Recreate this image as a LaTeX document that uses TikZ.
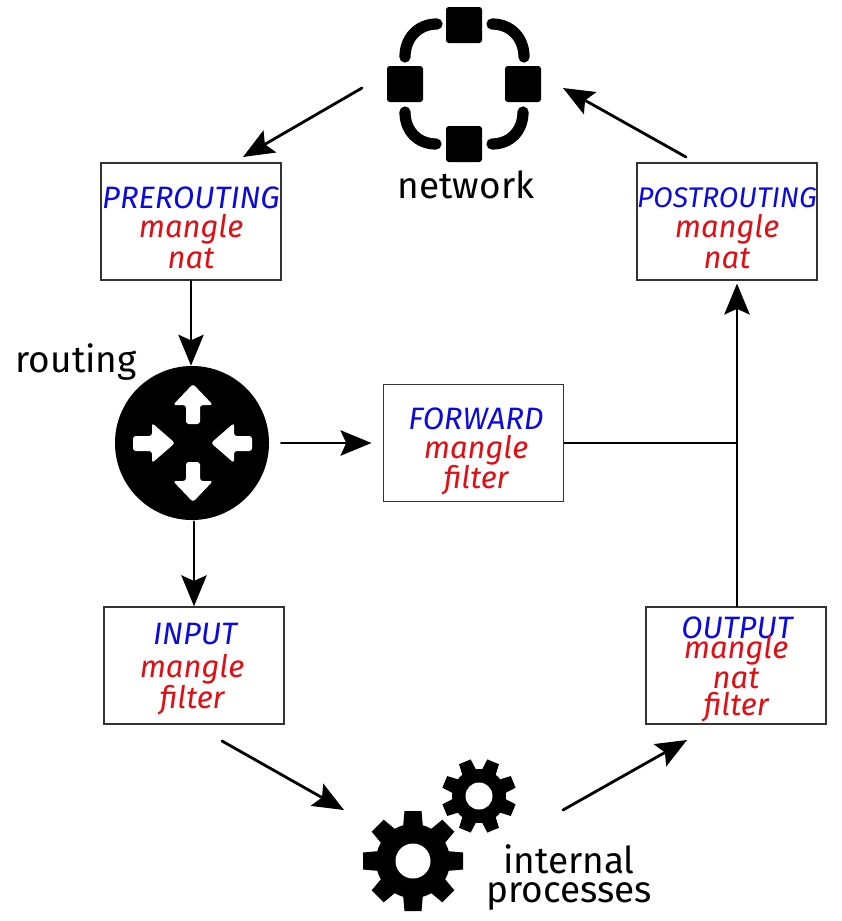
\documentclass[tikz,border=0pt]{standalone}
\usepackage{fontspec}
\setmainfont{Fira Sans}
\usetikzlibrary{arrows.meta}
\definecolor{chainblue}{RGB}{10,10,225}
\definecolor{tablered}{RGB}{225,15,20}
\tikzset{
  chainbox/.style={draw=black!80, line width=1pt, fill=white, minimum width=4.5cm, minimum height=2.925cm, inner sep=0pt},
  chainname/.style={font=\fontsize{22}{22}\selectfont\itshape, text=chainblue, inner sep=0pt},
  tablename/.style={font=\fontsize{22}{22}\selectfont\itshape, text=tablered, inner sep=0pt},
  caption/.style={font=\fontsize{26.3}{26.3}\selectfont, inner sep=0pt},
  flow/.style={line width=2pt, line cap=round, -{Stealth[length=22pt, width=18pt, inset=4pt]}},
  plainflow/.style={line width=2pt},
  hub/.style={line width=8pt, line cap=round},
}
% gear: x, y, outer radius, root radius, hole radius, turn
\newcommand{\gearicon}[6]{
  \begin{scope}[shift={(#1,#2)}]
    \fill (0,0) circle (#4);
    \foreach \a in {0,45,...,315}
      \fill[rotate=\a+#6] (-0.26*#3,0) -- (-0.17*#3,#3) -- (0.17*#3,#3) -- (0.26*#3,0) -- cycle;
    \fill[white] (0,0) circle (#5);
  \end{scope}
}
\begin{document}
\begin{tikzpicture}[x=0.025cm, y=-0.025cm]
  \useasboundingbox (0,0) rectangle (842,921);

  % network icon
  \node[minimum size=3.9cm] (network) at (464,84.5) {};
  \foreach \x/\y in {464/25, 405/84, 523/84, 464/144}
    \fill[rounded corners=2pt] (\x-18,\y-18) rectangle (\x+18,\y+18);
  \draw[hub] (405,57) .. controls (405,38) and (418,24) .. (437,24);
  \draw[hub] (492,24) .. controls (511,24) and (524,38) .. (524,57);
  \draw[hub] (405,112) .. controls (405,131) and (418,144) .. (436,144);
  \draw[hub] (492,144) .. controls (510,144) and (523,131) .. (523,112);
  \node[caption] (networktext) at (466,185) {network};

  % router icon
  \node[circle, fill=black, minimum size=3.85cm, inner sep=0pt] (router) at (192,443) {};
  \foreach \sy in {-1,1}
    \fill[white, rounded corners=2pt, shift={(193,443)}, yscale=\sy]
      (-7,19) -- (-7,38) -- (-20,38) -- (0,59) -- (20,38) -- (7,38) -- (7,19) -- cycle;
  \fill[white, rounded corners=2pt] (133,436) -- (152,436) -- (152,423) -- (175,443) -- (152,463) -- (152,451) -- (133,451) -- cycle;
  \fill[white, rounded corners=2pt] (252,436) -- (234,436) -- (234,423) -- (211,443) -- (234,463) -- (234,451) -- (252,451) -- cycle;
  \node[caption, anchor=east] (routertext) at (137,362) {routing};

  % gears icon
  \gearicon{413}{861}{50}{37}{17.5}{0}
  \gearicon{479}{796}{37}{27}{13.5}{22.5}
  \node[caption] (internaltext) at (569,859) {internal};
  \node[caption] (processestext) at (569,896) {processes};

  % chains
  \node[chainbox] (prerouting) at (191,221.5) {};
  \node[chainname] (preroutingname) at (191,198) {PREROUTING};
  \node[tablename] (preroutingmangle) at (191,229) {mangle};
  \node[tablename] (preroutingnat) at (191,259) {nat};

  \node[chainbox] (postrouting) at (727,221.5) {};
  \node[chainname, font=\fontsize{20.2}{20.2}\selectfont\itshape] (postroutingname) at (727,198) {POSTROUTING};
  \node[tablename] (postroutingmangle) at (727,229) {mangle};
  \node[tablename] (postroutingnat) at (727,259) {nat};

  \node[chainbox] (forward) at (473.5,443) {};
  \node[chainname] (forwardname) at (476,419) {FORWARD};
  \node[tablename] (forwardmangle) at (476,450) {mangle};
  \node[tablename] (forwardfilter) at (476,480) {filter};

  \node[chainbox] (input) at (194,665.5) {};
  \node[chainname] (inputname) at (195,634) {INPUT};
  \node[tablename] (inputmangle) at (192,669) {mangle};
  \node[tablename] (inputfilter) at (192,700) {filter};

  \node[chainbox] (output) at (736,665.5) {};
  \node[chainname] (outputname) at (737,628) {OUTPUT};
  \node[tablename] (outputmangle) at (736,650) {mangle};
  \node[tablename] (outputnat) at (736,679) {nat};
  \node[tablename] (outputfilter) at (736,707) {filter};

  % free ends of the arrows
  \coordinate (networkout) at (362,88);
  \coordinate (preroutingin) at (243,157);
  \coordinate (postroutingout) at (686,157);
  \coordinate (networkin) at (563,88);
  \coordinate (inputout) at (222,741);
  \coordinate (gearsin) at (344,810);
  \coordinate (gearsout) at (563,810);
  \coordinate (outputin) at (687,740);
  \coordinate (join) at (737,443);

  \draw[flow] (networkout) -- (preroutingin);
  \draw[flow] (prerouting.south) -- (router.north -| prerouting.south);
  \draw[flow, shorten <=8.5pt, shorten >=8pt] (router) -- (forward);
  \draw[flow, shorten <=1pt] (router.south -| input.south) -- (input.north);
  \draw[flow] (inputout) -- (gearsin);
  \draw[flow] (gearsout) -- (outputin);
  \draw[plainflow] (forward.east) -- (join);
  \draw[flow, shorten >=2pt] (join |- output.north) -- (join |- postrouting.south);
  \draw[flow] (postroutingout) -- (networkin);
\end{tikzpicture}
\end{document}
